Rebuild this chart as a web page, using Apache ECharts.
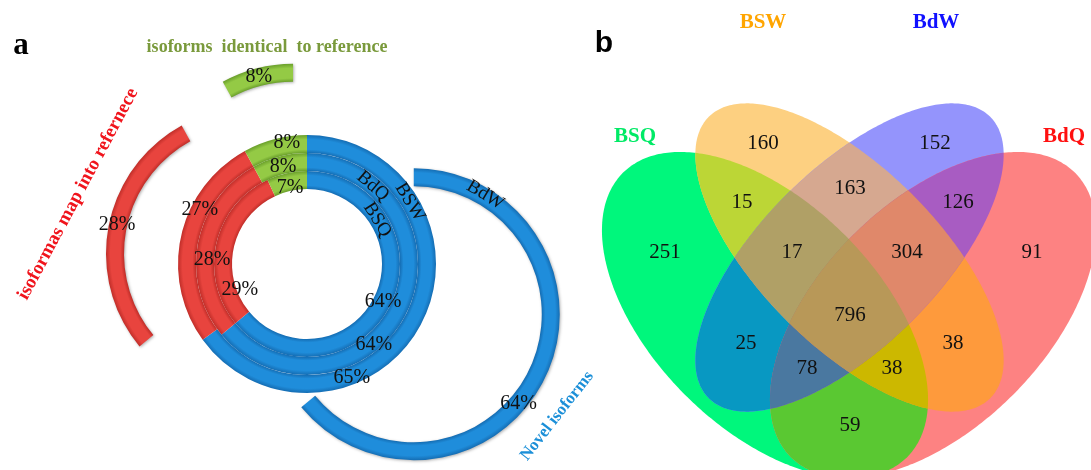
<!DOCTYPE html>
<html>
<head>
<meta charset="utf-8">
<script src="https://cdn.jsdelivr.net/npm/echarts@6/dist/echarts.min.js"></script>
<style>
  html, body { margin: 0; padding: 0; background: #ffffff; }
  #chart { width: 1091px; height: 470px; }
</style>
</head>
<body>
<div id="chart"></div>
<script>
// ---------------- data ----------------
// isoform classes, in drawing order of every ring (clockwise from 12 o'clock)
const classNames = ['Novel isoforms', 'isoformas map into refernece', 'isoforms identical to reference'];
// concentric rings, inner to outer (percent of isoforms)
const ringNames = ['BSQ', 'BdQ', 'BSW'];
const ringBSQ = [64, 29, 7];
const ringBdQ = [64, 28, 8];
const ringBSW = [65, 27, 8];
// the exploded outer ring
const ringBdWName = 'BdW';
const ringBdW = [64, 28, 8];

// Venn diagram of shared isoforms
const vennSets = ['BSQ', 'BSW', 'BdW', 'BdQ'];
const vennRegions = ['BSQ', 'BSW', 'BdW', 'BdQ',
  'BSQ&BSW', 'BSQ&BdW', 'BSQ&BdQ', 'BSW&BdW', 'BSW&BdQ', 'BdW&BdQ',
  'BSQ&BSW&BdW', 'BSQ&BSW&BdQ', 'BSQ&BdW&BdQ', 'BSW&BdW&BdQ',
  'BSQ&BSW&BdW&BdQ'];
const vennCounts = [251, 160, 152, 91, 15, 25, 59, 163, 38, 126, 17, 38, 78, 304, 796];

// ---------------- layout & style ----------------
const C = [307, 264];                               // centre of the nested rings
const ringRadii = [[75, 93], [93, 111], [111, 129]];
const classColors = [
  { edge: '#156db3', mid: '#1f8ddb' },              // novel
  { edge: '#c02e29', mid: '#e8443e' },              // mapped
  { edge: '#6a9f2b', mid: '#94ca45' }               // identical
];
// [angle in degrees, radius] of each percent label, per ring and class
const ringLabelSpots = [
  [[-26.6, 85], [201.2, 72], [102.6, 78]],
  [[-50.4, 105], [177.6, 95], [103.9, 100]],
  [[-68.5, 122.6], [153.2, 120], [99.4, 123]]
];
const ringNameSpots = [[32.2, 83], [49.8, 102], [31, 120]];
const explodeDist = [118, 56, 56];
const explodeRadius = [128, 146];
const explodeLabelSpots = [[-40.6, 138], [168, 138], [104.5, 137]];
const bdwNameSpot = [59, 139];

const serif = 'Liberation Serif';
const pctFont = { fontFamily: serif, fontSize: 20, color: '#111111' };

// Venn ellipses: centre, semi-axes, direction of long axis (degrees, screen)
const vennEllipses = [
  { cx: 765, cy: 315, a: 201, b: 113, phi: 45 },     // BSQ
  { cx: 849.5, cy: 257.5, a: 199, b: 89, phi: 45 },  // BSW
  { cx: 849.5, cy: 257.5, a: 199, b: 89, phi: 135 }, // BdW
  { cx: 933, cy: 315, a: 201, b: 113, phi: 135 }     // BdQ
];
const regionColors = ['#00f77c', '#fdd081', '#9494fc', '#fd8282',
  '#bcd636', '#0898c2', '#5ac832', '#d6a890', '#fe9a3c', '#a85cc2',
  '#b0a066', '#ccb800', '#4a78a0', '#e0886a',
  '#b89858'];
const regionLabelSpots = [[665, 252], [763, 143], [935, 143], [1032, 252],
  [742, 202], [746, 343], [850, 425], [850, 188], [953, 343], [958, 202],
  [792, 252], [892, 368], [807, 368], [907, 252],
  [850, 315]];
const setLabelSpots = [[635, 137], [763, 23], [936, 23], [1064, 137]];
const setLabelColors = ['#00ea66', '#ffa500', '#1010ff', '#ff1010'];

// ---------------- helpers ----------------
const rad = d => d * Math.PI / 180;
const polar = (c, ang, r) => [c[0] + r * Math.cos(rad(ang)), c[1] - r * Math.sin(rad(ang))];

// bevelled look: darker rims, lighter middle of the band
function bandFill(c, r0, r1, col) {
  return {
    type: 'radial', x: c[0], y: c[1], r: r1, global: true,
    colorStops: [
      { offset: 0, color: col.edge },
      { offset: r0 / r1, color: col.edge },
      { offset: (r0 + (r1 - r0) * 0.2) / r1, color: col.mid },
      { offset: (r0 + (r1 - r0) * 0.75) / r1, color: col.mid },
      { offset: 1, color: col.edge }
    ]
  };
}

const sliceShadow = { shadowBlur: 3, shadowColor: 'rgba(0,0,0,0.3)', shadowOffsetX: 1, shadowOffsetY: 1, borderWidth: 0 };

function ringSeries(values, idx) {
  const [r0, r1] = ringRadii[idx];
  return {
    type: 'pie', name: ringNames[idx], center: C, radius: [r0, r1],
    startAngle: 90, clockwise: true, silent: true, animation: false,
    avoidLabelOverlap: false, emphasis: { disabled: true },
    data: values.map((v, k) => ({
      name: classNames[k], value: v,
      itemStyle: { color: bandFill(C, r0, r1, classColors[k]), borderWidth: 0 }
    })),
    label: Object.assign({ show: true, position: 'inside', formatter: '{c}%' }, pctFont),
    labelLine: { show: false },
    labelLayout: p => {
      const s = ringLabelSpots[idx][p.dataIndex];
      const q = polar(C, s[0], s[1]);
      return { x: q[0], y: q[1], align: 'center', verticalAlign: 'middle' };
    }
  };
}

// one slice of the BdW ring, pulled out along its own mid angle
function sliceCenter(values, k, dist) {
  const total = values.reduce((s, v) => s + v, 0);
  let before = 0;
  for (let i = 0; i < k; i++) before += values[i];
  const mid = 90 - (before + values[k] / 2) / total * 360;
  return polar(C, mid, dist);
}

function explodedSeries(k) {
  const ctr = sliceCenter(ringBdW, k, explodeDist[k]);
  const [r0, r1] = explodeRadius;
  return {
    type: 'pie', name: ringBdWName, center: ctr, radius: [r0, r1],
    startAngle: 90, clockwise: true, silent: true, animation: false,
    avoidLabelOverlap: false, emphasis: { disabled: true },
    data: ringBdW.map((v, i) => ({
      name: classNames[i], value: v,
      itemStyle: i === k
        ? Object.assign({ color: bandFill(ctr, r0, r1, classColors[i]) }, sliceShadow)
        : { color: 'rgba(0,0,0,0)', borderWidth: 0 },
      label: { show: i === k }
    })),
    label: Object.assign({ position: 'inside', formatter: '{c}%' }, pctFont),
    labelLine: { show: false },
    labelLayout: p => {
      if (p.dataIndex !== k) return {};
      const s = explodeLabelSpots[k];
      const q = polar(ctr, s[0], s[1]);
      return { x: q[0], y: q[1], align: 'center', verticalAlign: 'middle' };
    }
  };
}

function text(x, y, str, font, fill, rotDeg, z) {
  return {
    type: 'text', x: x, y: y, rotation: rad(rotDeg || 0), z: z || 20, silent: true,
    style: { text: str, font: font, fill: fill, align: 'center', verticalAlign: 'middle',
             textAlign: 'center', textVerticalAlign: 'middle' }
  };
}

// ---- Venn geometry: ellipse outlines and their intersections ----
function ellipsePoly(e, n) {
  const pts = [], p = rad(e.phi), cp = Math.cos(p), sp = Math.sin(p);
  for (let i = 0; i < n; i++) {
    const t = 2 * Math.PI * i / n, ca = e.a * Math.cos(t), sb = e.b * Math.sin(t);
    pts.push([e.cx + ca * cp - sb * sp, e.cy + ca * sp + sb * cp]);
  }
  return pts;
}
function clipConvex(subject, clipPoly) {
  let out = subject;
  for (let i = 0; i < clipPoly.length && out.length; i++) {
    const A = clipPoly[i], B = clipPoly[(i + 1) % clipPoly.length];
    const side = P => (B[0] - A[0]) * (P[1] - A[1]) - (B[1] - A[1]) * (P[0] - A[0]);
    const inp = out; out = [];
    for (let j = 0; j < inp.length; j++) {
      const P = inp[j], Q = inp[(j + 1) % inp.length];
      const sp = side(P), sq = side(Q);
      if (sp >= 0) out.push(P);
      if ((sp >= 0) !== (sq >= 0)) {
        const t = sp / (sp - sq);
        out.push([P[0] + t * (Q[0] - P[0]), P[1] + t * (Q[1] - P[1])]);
      }
    }
  }
  return out;
}

const ellPolys = vennEllipses.map(e => ellipsePoly(e, 360));
const graphics = [];

// each region is painted as the intersection of its sets, smaller sets first,
// so the last paint at every spot is the exact combination of sets present there
vennRegions.forEach((key, ri) => {
  const members = key.split('&').map(s => vennSets.indexOf(s));
  let poly = ellPolys[members[0]];
  for (let m = 1; m < members.length; m++) poly = clipConvex(poly, ellPolys[members[m]]);
  graphics.push({ type: 'polygon', z: members.length, silent: true,
    shape: { points: poly }, style: { fill: regionColors[ri] } });
  const s = regionLabelSpots[ri];
  graphics.push(text(s[0], s[1], String(vennCounts[ri]), '21px ' + serif, '#111111', 0, 20));
});
vennSets.forEach((name, i) => {
  const s = setLabelSpots[i];
  graphics.push(text(s[0], s[1], name, 'bold 21px ' + serif, setLabelColors[i], 0, 20));
});

// ---- ring names and headings of panel a ----
ringNames.forEach((name, i) => {
  const s = ringNameSpots[i];
  const q = polar(C, s[0], s[1]);
  graphics.push(text(q[0], q[1], name, '19px ' + serif, '#111111', s[0] - 90, 20));
});
const bdwCtr = sliceCenter(ringBdW, 0, explodeDist[0]);
const bq = polar(bdwCtr, bdwNameSpot[0], bdwNameSpot[1]);
graphics.push(text(bq[0], bq[1], ringBdWName, '19px ' + serif, '#111111', bdwNameSpot[0] - 90, 20));

graphics.push(text(21, 46, 'a', 'bold 31px ' + serif, '#000000', 0, 20));
graphics.push(text(604, 44, 'b', 'bold 30px Liberation Sans', '#000000', 0, 20));
graphics.push(text(267, 47, 'isoforms  identical  to reference', 'bold 18px ' + serif, '#7a9a3c', 0, 20));
graphics.push(text(78, 194, classNames[1], 'bold 19px ' + serif, '#f0141c', 62, 20));
graphics.push(text(557, 416, classNames[0], 'bold 17px ' + serif, '#1b8fd8', 52, 20));

const chart = echarts.init(document.getElementById('chart'), null, { renderer: 'canvas' });
chart.setOption({
  backgroundColor: '#ffffff',
  animation: false,
  series: [
    ringSeries(ringBSQ, 0),
    ringSeries(ringBdQ, 1),
    ringSeries(ringBSW, 2),
    explodedSeries(0),
    explodedSeries(1),
    explodedSeries(2)
  ],
  graphic: { elements: graphics }
});
</script>
</body>
</html>
